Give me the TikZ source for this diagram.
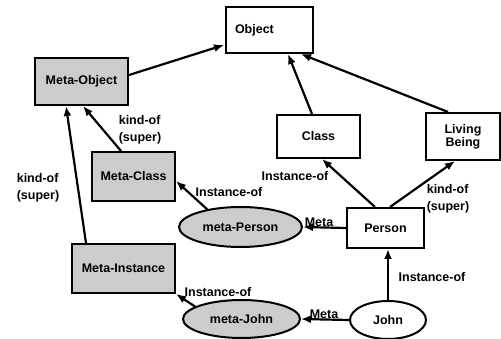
\documentclass[tikz,border=0pt]{standalone}
\usepackage{fontspec}
\setmainfont{Liberation Sans}
\usetikzlibrary{arrows.meta,shapes.geometric,calc}
\tikzset{
  box/.style={draw, line width=2pt, rectangle, inner sep=0pt, font=\bfseries\fontsize{12.5}{15}\selectfont},
  shaded/.style={fill=gray!40},
  oval/.style={draw, line width=2pt, ellipse, inner sep=0pt, font=\bfseries\fontsize{12.5}{15}\selectfont},
  conn/.style={line width=2.2pt, -{Latex[length=10pt,width=8pt]}},
  lbl/.style={font=\bfseries\fontsize{12.5}{17}\selectfont, align=left, inner sep=0pt}
}
\begin{document}
\begin{tikzpicture}[x=1pt,y=-1pt]
\useasboundingbox[fill=white] (0,0) rectangle (501,339);
% nodes
\node[box, minimum width=87pt, minimum height=46pt, text width=69pt, align=left] (obj) at (269.5,30) {Object};
\node[box, shaded, minimum width=93pt, minimum height=47pt] (mo) at (81.5,81.5) {Meta-Object};
\node[box, shaded, minimum width=83pt, minimum height=49pt] (mc) at (133.5,176.5) {Meta-Class};
\node[box, shaded, minimum width=103pt, minimum height=49pt] (mi) at (123.5,268.5) {Meta-Instance};
\node[oval, shaded, minimum width=123pt, minimum height=40pt] (mp) at (240.5,227) {meta-Person};
\node[oval, shaded, minimum width=117pt, minimum height=38pt] (mj) at (241.5,319) {meta-John};
\node[box, minimum width=83pt, minimum height=43pt] (cls) at (318.5,136.5) {Class};
\node[box, minimum width=74pt, minimum height=47pt, align=center] (lb) at (463,136.5) {Living\\[-2pt]Being};
\node[box, minimum width=77pt, minimum height=40pt] (per) at (385.5,228) {Person};
\node[oval, minimum width=76pt, minimum height=38pt] (john) at (388,320) {John};
% connectors
\draw[conn] ($(mo.east)+(0,-6.5)$) -- ($(obj.west)+(-1,15)$);
\draw[conn] ($(mc.north)+(-12.5,0)$) -- ($(mo.south)+(1.5,0)$);
\draw[conn] ($(mi.north)+(-37.5,0)$) -- ($(mo.south)+(-15.5,0)$);
\draw[conn] (mp.152) -- ($(mc.east)+(0,4.5)$);
\draw[conn] (mj.165) -- (mi.south east);
\draw[conn] ($(cls.north)+(-6.5,0)$) -- ($(obj.south)+(18.5,0)$);
\draw[conn] ($(lb.north)+(-15,0)$) -- ($(obj.south)+(31.5,0)$);
\draw[conn] ($(per.north)+(-10.5,0)$) -- ($(cls.south)+(3.5,0)$);
\draw[conn] ($(per.north)+(4.5,0)$) -- ($(lb.south)+(-8,0)$);
\draw[conn] (per.west) -- (mp.east);
\draw[conn] (john.north) -- ($(per.south)+(2.5,0)$);
\draw[conn] (john.west) -- (mj.east);
% labels
\node[lbl] (l1) at (140,130) {kind-of\\(super)};
\node[lbl] (l2) at (38,188) {kind-of\\(super)};
\node[lbl] (l3) at (229,192) {Instance-of};
\node[lbl] (l4) at (218,292) {Instance-of};
\node[lbl] (l5) at (295,176) {Instance-of};
\node[lbl] (l6) at (448,199) {kind-of\\(super)};
\node[lbl] (l7) at (319,222) {Meta};
\node[lbl] (l8) at (324,314) {Meta};
\node[lbl] (l9) at (432,277) {Instance-of};
\end{tikzpicture}
\end{document}
